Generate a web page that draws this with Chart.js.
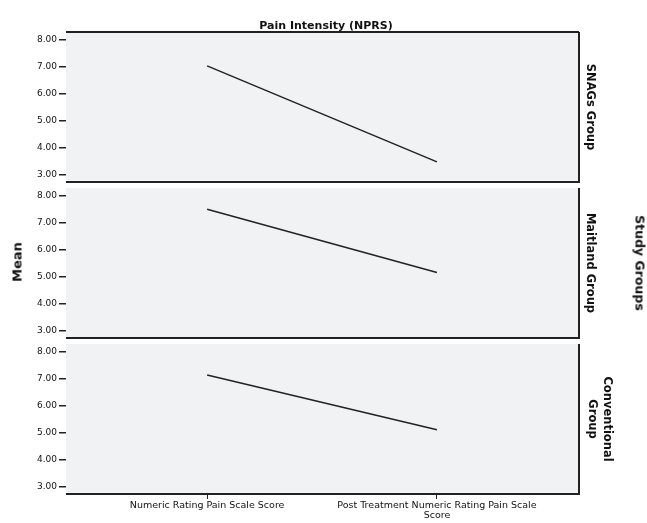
<!DOCTYPE html>
<html>
<head>
<meta charset="utf-8">
<script src="https://cdn.jsdelivr.net/npm/chart.js@4/dist/chart.umd.min.js"></script>
<style>
  html, body { margin: 0; padding: 0; background: #fff; }
  #wrap { position: relative; width: 647px; height: 523px; overflow: hidden; font-family: "DejaVu Sans", sans-serif; color: #111; }
  canvas { position: absolute; left: 0; }
  .lbl { position: absolute; white-space: nowrap; font-weight: bold; text-align: center; transform: translate(-50%, -50%); z-index: 2; }
  .rot { transform: translate(-50%, -50%) rotate(90deg); }
  .rotl { transform: translate(-50%, -50%) rotate(-90deg); }
</style>
</head>
<body>
<div id="wrap">
  <canvas id="c1" width="647" height="170" style="top:22px;"></canvas>
  <canvas id="c2" width="647" height="170" style="top:178px;"></canvas>
  <canvas id="c3" width="647" height="189" style="top:334px;"></canvas>
  <div class="lbl" style="left:326px; top:25px; font-size:11px;">Pain Intensity (NPRS)</div>
  <div class="lbl rotl" style="left:17px; top:262px; font-size:13px;">Mean</div>
  <div class="lbl rot" style="left:640px; top:263px; font-size:12.5px;">Study Groups</div>
  <div class="lbl rot" style="left:591px; top:107px; font-size:11.5px;">SNAGs Group</div>
  <div class="lbl rot" style="left:591px; top:263px; font-size:11.5px;">Maitland Group</div>
  <div class="lbl rot" style="left:600px; top:419px; font-size:11.5px; line-height:15px;">Conventional<br>Group</div>
</div>
<script>
// ---- data ----
const categories = ['Numeric Rating Pain Scale Score', 'Post Treatment Numeric Rating Pain Scale Score'];
const groups = ['SNAGs Group', 'Maitland Group', 'Conventional Group'];
const snagsMeans = [7.04, 3.47];
const maitlandMeans = [7.51, 5.16];
const conventionalMeans = [7.15, 5.11];
const yTickValues = [3, 4, 5, 6, 7, 8];

const Y_MIN = 2.72, Y_MAX = 8.3;
const X_MIN = -0.614, X_MAX = 1.618;

function wrapLabel(s, maxChars) {
  const words = s.split(' ');
  const lines = [];
  let cur = '';
  for (const w of words) {
    const t = cur ? cur + ' ' + w : w;
    if (t.length > maxChars && cur) { lines.push(cur); cur = w; } else { cur = t; }
  }
  if (cur) lines.push(cur);
  return lines;
}

const panelPlugin = {
  id: 'panel',
  beforeDraw(chart) {
    const { ctx, chartArea: a } = chart;
    ctx.save();
    ctx.fillStyle = '#f1f2f4';
    ctx.fillRect(a.left, a.top, a.right - a.left, a.bottom - a.top);
    ctx.restore();
  },
  afterDraw(chart, args, opts) {
    const { ctx, chartArea: a } = chart;
    ctx.save();
    ctx.strokeStyle = '#222';
    ctx.lineWidth = 2;
    ctx.beginPath();
    if (opts.top) { ctx.moveTo(a.left, a.top); ctx.lineTo(a.right, a.top); }
    ctx.moveTo(a.right, a.top); ctx.lineTo(a.right, a.bottom);
    ctx.moveTo(a.left, a.bottom); ctx.lineTo(a.right + 1, a.bottom);
    ctx.stroke();
    ctx.restore();
  }
};

function makeChart(id, values, label, isBottom, drawTop) {
  const ctx = document.getElementById(id).getContext('2d');
  const xScale = {
    type: 'linear',
    min: X_MIN,
    max: X_MAX,
    display: isBottom,
    afterBuildTicks: (s) => { s.ticks = categories.map((c, i) => ({ value: i })); },
    border: { display: false },
    grid: { drawOnChartArea: false, drawTicks: true, tickLength: 5, color: '#222', lineWidth: 1 },
    ticks: {
      autoSkip: false,
      maxRotation: 0,
      minRotation: 0,
      padding: 2,
      color: '#111',
      font: { family: 'DejaVu Sans', size: 9.5, lineHeight: 1.0 },
      callback: (v) => wrapLabel(categories[v] || '', 40)
    }
  };
  if (isBottom) xScale.afterFit = (s) => { s.height = 29; };
  return new Chart(ctx, {
    type: 'line',
    data: {
      datasets: [{
        label: label,
        data: values.map((v, i) => ({ x: i, y: v })),
        borderColor: '#222',
        borderWidth: 1.5,
        pointRadius: 0,
        fill: false,
        tension: 0
      }]
    },
    options: {
      responsive: false,
      animation: false,
      devicePixelRatio: 1,
      layout: { padding: { left: 0, right: 68, top: 10, bottom: isBottom ? 0 : 10 } },
      plugins: {
        legend: { display: false },
        tooltip: { enabled: false },
        title: { display: false },
        panel: { top: drawTop }
      },
      scales: {
        x: xScale,
        y: {
          type: 'linear',
          min: Y_MIN,
          max: Y_MAX,
          afterBuildTicks: (s) => { s.ticks = yTickValues.map(v => ({ value: v })); },
          afterFit: (s) => { s.width = 66; },
          border: { display: false },
          grid: { drawOnChartArea: false, drawTicks: true, tickLength: 7, color: '#222', lineWidth: 1.5 },
          ticks: {
            padding: 2,
            color: '#111',
            font: { family: 'DejaVu Sans', size: 9 },
            callback: (v) => Number(v).toFixed(2)
          }
        }
      }
    },
    plugins: [panelPlugin]
  });
}

makeChart('c1', snagsMeans, groups[0], false, true);
makeChart('c2', maitlandMeans, groups[1], false, false);
makeChart('c3', conventionalMeans, groups[2], true, false);
</script>
</body>
</html>
